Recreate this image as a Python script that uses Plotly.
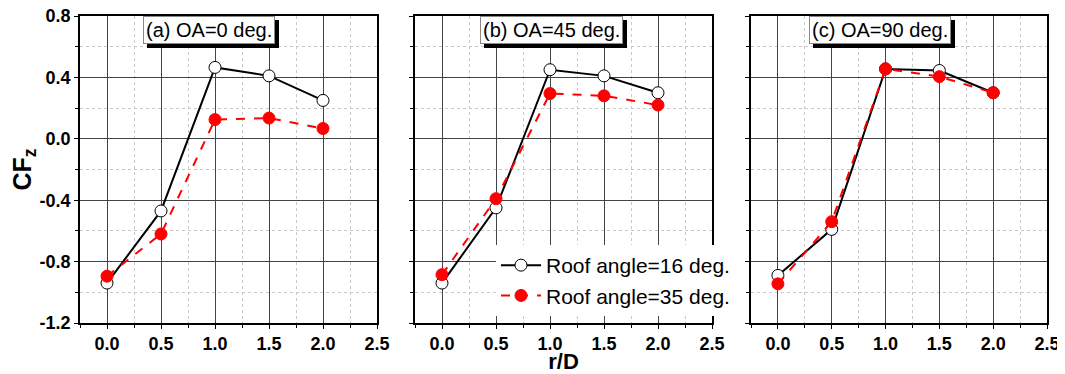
import plotly.graph_objects as go

# ---- data ----
r_over_D = [0.0, 0.5, 1.0, 1.5, 2.0]

cfz_16_oa0 = [-0.94, -0.47, 0.465, 0.41, 0.25]
cfz_35_oa0 = [-0.895, -0.62, 0.125, 0.135, 0.067]

cfz_16_oa45 = [-0.94, -0.45, 0.45, 0.41, 0.30]
cfz_35_oa45 = [-0.885, -0.39, 0.295, 0.28, 0.22]

cfz_16_oa90 = [-0.89, -0.59, 0.455, 0.445, 0.30]
cfz_35_oa90 = [-0.945, -0.54, 0.456, 0.405, 0.30]

panel_titles = ["(a) OA=0 deg.", "(b) OA=45 deg.", "(c) OA=90 deg."]
series_names = ["Roof angle=16 deg.", "Roof angle=35 deg."]

x_tick_vals = [0.0, 0.5, 1.0, 1.5, 2.0, 2.5]
x_tick_text = ["0.0", "0.5", "1.0", "1.5", "2.0", "2.5"]
y_tick_vals = [-1.2, -0.8, -0.4, 0.0, 0.4, 0.8]
y_tick_text = ["-1.2", "-0.8", "-0.4", "0.0", "0.4", "0.8"]

panels = [
    (cfz_16_oa0, cfz_35_oa0),
    (cfz_16_oa45, cfz_35_oa45),
    (cfz_16_oa90, cfz_35_oa90),
]

FONT = "Arial, Liberation Sans, sans-serif"
# page body has an 8px margin, so the figure is drawn 8px in from the corner
OFF = 8
W, H = 1065 - OFF, 374 - OFF
PL, PR, PT, PB = 80, 1047, 16, 323          # target plot-area edges in window pixels
ML, MR, MT, MB = PL - OFF, OFF + W - PR, PT - OFF, OFF + H - PB

fig = go.Figure()

for i, (s16, s35) in enumerate(panels):
    ax = "" if i == 0 else str(i + 1)
    fig.add_trace(go.Scatter(
        x=r_over_D, y=s16, mode="lines+markers", name=series_names[0],
        xaxis="x" + ax, yaxis="y" + ax, showlegend=(i == 1),
        line=dict(color="black", width=2),
        marker=dict(symbol="circle", size=12, color="white",
                    line=dict(color="black", width=1)),
    ))
    fig.add_trace(go.Scatter(
        x=r_over_D, y=s35, mode="lines+markers", name=series_names[1],
        xaxis="x" + ax, yaxis="y" + ax, showlegend=(i == 1),
        line=dict(color="red", width=2, dash="dash"),
        marker=dict(symbol="circle", size=12, color="red",
                    line=dict(color="red", width=1)),
    ))

plot_w = PR - PL
plot_h = PB - PT
domains = [(80, 377), (415, 712), (751, 1047)]

axis_common = dict(
    showline=True, linecolor="black", linewidth=1.5, mirror=True,
    showgrid=True, gridcolor="#444", gridwidth=1,
    zeroline=False, ticks="outside", ticklen=4, tickcolor="black",
    tickfont=dict(family=FONT, size=18, color="black", weight="bold"),
    ticklabeloverflow="allow",
    automargin=False,
)

for i, (a, b) in enumerate(domains):
    ax = "" if i == 0 else str(i + 1)
    dom = [(a - PL) / plot_w, (b - PL) / plot_w]
    xa = dict(axis_common)
    xa.update(
        domain=dom, range=[-0.25, 2.5], anchor="y" + ax,
        tickvals=x_tick_vals, ticktext=x_tick_text,
        minor=dict(dtick=0.25, tick0=0, showgrid=True, gridcolor="#c8c8c8",
                   griddash="dot", ticks="outside", ticklen=3, tickcolor="black"),
    )
    if i == 1:
        xa["title"] = dict(text="<b>r/D</b>", font=dict(family=FONT, size=22, color="black"),
                           standoff=0)
    ya = dict(axis_common)
    ya.update(
        domain=[0, 1], range=[-1.2, 0.8], anchor="x" + ax,
        tickvals=y_tick_vals, ticktext=y_tick_text,
        showticklabels=(i == 0),
        minor=dict(dtick=0.2, tick0=0, showgrid=True, gridcolor="#c8c8c8",
                   griddash="dot", ticks="outside", ticklen=3, tickcolor="black"),
    )
    if i == 0:
        ya["title"] = dict(text="<b>CF<sub>z</sub></b>", font=dict(family=FONT, size=25, color="black"),
                           standoff=2)
    fig.update_layout(**{"xaxis" + ax: xa, "yaxis" + ax: ya})

# panel title boxes with drop shadow
title_pos = [0.434, 0.46, 0.436]
for i, t in enumerate(panel_titles):
    ax = "" if i == 0 else str(i + 1)
    common = dict(
        text=t, xref="x" + ax + " domain", yref="y" + ax + " domain",
        x=title_pos[i], y=1.0, xanchor="center", yanchor="top",
        showarrow=False, borderpad=2, borderwidth=1,
        font=dict(family=FONT, size=20, color="black"),
    )
    fig.add_annotation(**common, bgcolor="black", bordercolor="black", xshift=4, yshift=-4)
    fig.add_annotation(**common, bgcolor="white", bordercolor="#888")

fig.update_layout(
    width=W, height=H,
    margin=dict(l=ML, r=MR, t=MT, b=MB, autoexpand=False),
    paper_bgcolor="white", plot_bgcolor="white",
    font=dict(family=FONT, color="black"),
    legend=dict(
        x=(496 - PL) / plot_w, y=1 - (245 - PT) / plot_h,
        xref="paper", yref="paper", xanchor="left", yanchor="top",
        bgcolor="white", borderwidth=0,
        font=dict(family=FONT, size=21, color="black"),
        itemwidth=40, tracegroupgap=0,
    ),
)

fig.write_html("out.html")
